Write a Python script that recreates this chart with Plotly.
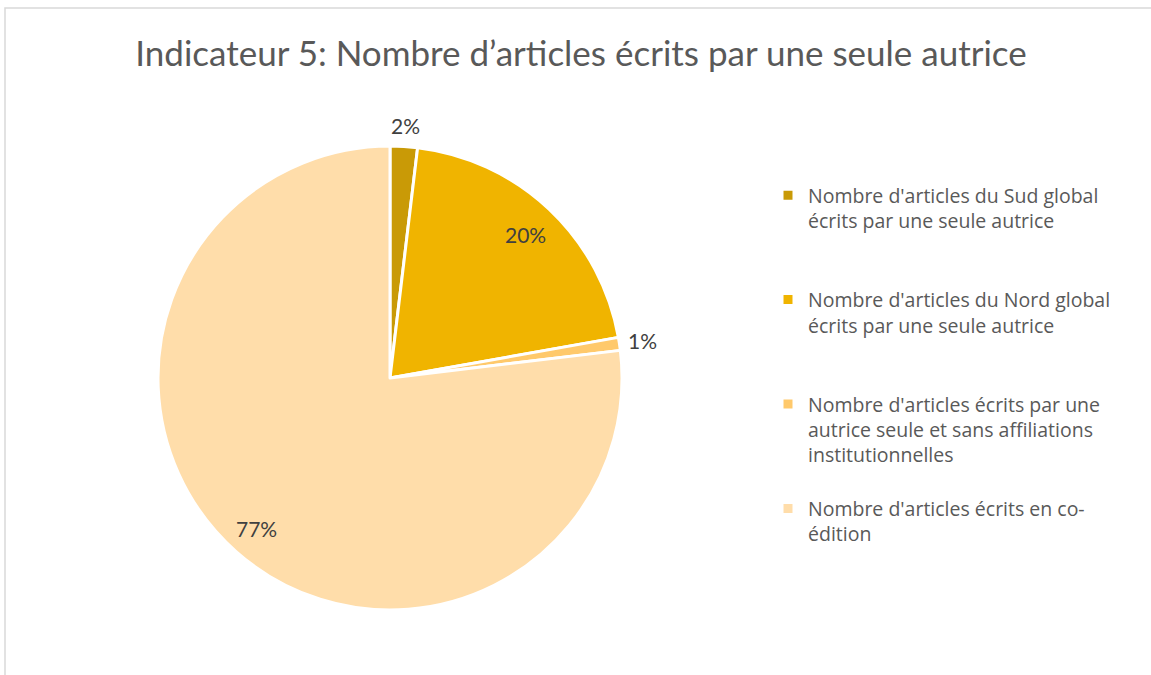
import math

import plotly.graph_objects as go

# Indicateur 5 - share of articles by a single female author
labels = [
    "Nombre d'articles du Sud global<br>écrits par une seule autrice<br> <br> ",
    "Nombre d'articles du Nord global<br>écrits par une seule autrice<br> <br> ",
    "Nombre d'articles écrits par une<br>autrice seule et sans affiliations<br>institutionnelles<br> ",
    "Nombre d'articles écrits en co-<br>édition",
]
values = [1.9, 20.3, 0.9, 76.9]
colors = ["#C99A06", "#F0B400", "#FFC96B", "#FFDDAA"]
# label distance from the centre, as a fraction of the radius
label_dist = [1.09, 0.85, 1.10, 0.87]

TITLE = "Indicateur 5: Nombre d’articles écrits par une seule autrice"
FONT = "Lato, 'Open Sans', sans-serif"
LEGEND_FONT = "'Open Sans', Lato, sans-serif"

W, H = 1151, 675
CX, CY, R = 390, 378, 232  # pie centre / radius in pixels

fig = go.Figure(
    go.Pie(
        labels=labels,
        values=values,
        sort=False,
        direction="clockwise",
        rotation=0,
        marker=dict(colors=colors, line=dict(color="white", width=3)),
        textinfo="none",
        textposition="none",
        domain=dict(x=[(CX - R) / W, (CX + R) / W], y=[1 - (CY + R) / H, 1 - (CY - R) / H]),
        hoverinfo="label+percent",
    )
)

# percentage labels placed along the middle of each slice
total = sum(values)
cum = 0.0
annotations = []
for v, k in zip(values, label_dist):
    theta = 2 * math.pi * (cum + v / 2) / total
    cum += v
    px_x = CX + k * R * math.sin(theta)
    px_y = CY - k * R * math.cos(theta)
    annotations.append(
        dict(
            x=px_x / W,
            y=1 - px_y / H,
            xref="paper",
            yref="paper",
            xanchor="center",
            yanchor="middle",
            text=f"{round(100 * v / total)}%",
            showarrow=False,
            font=dict(family=FONT, size=21, color="#404040"),
        )
    )

fig.update_layout(
    width=W,
    height=H,
    margin=dict(l=0, r=0, t=0, b=0),
    paper_bgcolor="white",
    font=dict(family=FONT, color="#595959"),
    title=dict(
        text=TITLE,
        x=581 / W,
        xanchor="center",
        y=1 - 54 / H,
        yanchor="middle",
        font=dict(family=FONT, size=35, color="#595959"),
    ),
    legend=dict(
        x=768 / W,
        xanchor="left",
        y=1 - 176 / H,
        yanchor="top",
        valign="top",
        font=dict(family=LEGEND_FONT, size=19.5, color="#595959"),
        bgcolor="rgba(0,0,0,0)",
    ),
    annotations=annotations,
    shapes=[
        dict(
            type="rect",
            xref="paper",
            yref="paper",
            x0=5 / W,
            x1=1.05,
            y0=-0.05,
            y1=1 - 8 / H,
            line=dict(color="#D9D9D9", width=1.5),
            fillcolor="rgba(0,0,0,0)",
            layer="below",
        )
    ],
)

# drop the default page margin so the figure sits at the window's corner
fig.write_html(
    "out.html",
    config={"displayModeBar": False},
    post_script="document.body.style.margin = '0px';",
)
